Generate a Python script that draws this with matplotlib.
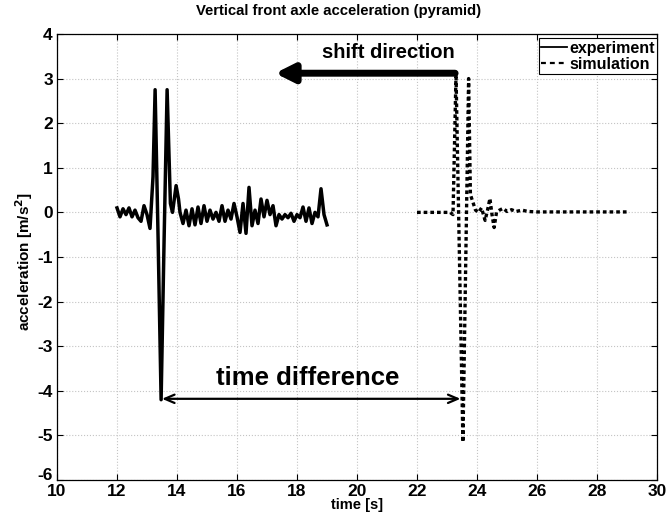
import numpy as np
import matplotlib
matplotlib.use("Agg")
import matplotlib.pyplot as plt
from matplotlib.lines import Line2D

plt.rcParams['font.family'] = ['Liberation Sans', 'DejaVu Sans']
plt.rcParams['font.weight'] = 'bold'
plt.rcParams['axes.unicode_minus'] = False

# ---------------------------------------------------------------------------
# Measured front axle acceleration (pyramid obstacle)
# ---------------------------------------------------------------------------
# quiet section before the obstacle, one sample every 0.1 s from 12.0 s
exp_pre_start = 12.0
exp_pre = [0.10, -0.10, 0.08, -0.05, 0.10, -0.10, 0.05, -0.12, -0.20, 0.15,
           -0.05, -0.36]

# wheel passing the pyramid
exp_hit_t = [13.20, 13.27, 13.37, 13.47, 13.57, 13.67, 13.78, 13.85, 13.92,
             13.97, 14.05, 14.10]
exp_hit = [0.80, 2.75, -0.60, -4.20, -0.60, 2.75, 0.20, 0.00, 0.35,
           0.60, 0.30, 0.00]

# section after the obstacle, one sample every 0.1 s from 14.2 s
exp_post_start = 14.2
exp_post = [-0.25, 0.05, -0.30, 0.08, -0.28, 0.12, -0.25, 0.15, -0.20, 0.05,
            -0.15, 0.00, -0.20, 0.15, -0.20, 0.05, -0.15, 0.20, -0.10, -0.45,
            0.20, -0.47, 0.56, -0.30, 0.05, -0.25, 0.30, -0.10, 0.27, -0.05,
            0.15, -0.30, -0.05, -0.15, -0.05, -0.12, -0.02, -0.20, -0.05, -0.12,
            0.12, -0.20, 0.10, -0.25, 0.00, -0.10, 0.53, -0.05, -0.28]

# ---------------------------------------------------------------------------
# Simulated front axle acceleration
# ---------------------------------------------------------------------------
sim_t = [22.0, 23.10, 23.20, 23.30, 23.53, 23.72, 23.78, 23.95, 24.05, 24.15,
         24.27, 24.35, 24.43, 24.50, 24.57, 24.65, 24.75, 24.87, 25.0, 25.15,
         25.3, 25.5, 25.7, 26.0, 29.0]
sim_a = [0.0, 0.0, -0.05, 3.10, -5.15, 3.00, 0.40, 0.05, 0.00, 0.10,
         -0.18, 0.05, 0.31, -0.05, -0.34, 0.00, 0.05, 0.09, 0.02, 0.06,
         0.02, 0.05, 0.02, 0.01, 0.01]

x_ticks = [10, 12, 14, 16, 18, 20, 22, 24, 26, 28, 30]
y_ticks = [-6, -5, -4, -3, -2, -1, 0, 1, 2, 3, 4]

# annotation anchors (data units)
shift_from, shift_to, shift_y = 23.27, 17.27, 3.12
diff_from, diff_to, diff_y = 13.50, 23.45, -4.18

exp_t = np.concatenate([exp_pre_start + 0.1 * np.arange(len(exp_pre)),
                        exp_hit_t,
                        exp_post_start + 0.1 * np.arange(len(exp_post))])
exp_a = np.concatenate([exp_pre, exp_hit, exp_post])

fig = plt.figure(figsize=(6.66, 5.17), dpi=100)
ax = fig.add_axes([0.0856, 0.0716, 0.9009, 0.8627])

ax.plot(exp_t, exp_a, color='k', lw=2.5, solid_joinstyle='round')
ax.plot(sim_t, sim_a, color='k', lw=2.4, linestyle=(0, (1.1, 0.9)))

ax.set_xlim(10, 30)
ax.set_ylim(-6, 4)
ax.set_xticks(x_ticks)
ax.set_yticks(y_ticks)
ax.tick_params(direction='in', length=4, width=0.8, top=True, right=True,
               labelsize=12.5, pad=3)
for lab in ax.get_xticklabels() + ax.get_yticklabels():
    lab.set_fontweight('bold')
# lift the bottom y label so it clears the first x label in the corner
ax.get_yticklabels()[0].set_va('baseline')
ax.grid(True, linestyle=':', color='#c4c4c4', lw=0.8)
for sp in ax.spines.values():
    sp.set_linewidth(0.9)

ax.set_title('Vertical front axle acceleration (pyramid)', fontsize=10.7,
             fontweight='bold', pad=14, x=0.47)
ax.set_xlabel('time [s]', fontsize=10.5, fontweight='bold', labelpad=-1)
ax.set_ylabel('acceleration [m/s$^\\mathbf{2}$]', fontsize=11,
              fontweight='bold')
ax.yaxis.set_label_coords(-0.036, 0.49)

# shift direction arrow
ax.annotate('', xy=(shift_to, shift_y), xytext=(shift_from, shift_y),
            arrowprops=dict(arrowstyle='-|>,head_length=1.1,head_width=0.55',
                            lw=5, color='k', shrinkA=0, shrinkB=0))
ax.text(21.03, shift_y + 0.25, 'shift direction',
        ha='center', va='bottom', fontsize=14.5, fontweight='bold')

# time difference arrow
ax.annotate('', xy=(diff_from, diff_y), xytext=(diff_to, diff_y),
            arrowprops=dict(arrowstyle='<->,head_length=0.7,head_width=0.3',
                            lw=1.6, color='k', shrinkA=0, shrinkB=0))
ax.text(18.37, diff_y + 0.2, 'time difference', ha='center', va='bottom',
        fontsize=18.5, fontweight='bold')

handles = [Line2D([], [], color='k', lw=1.3),
           Line2D([], [], color='k', lw=1.6, linestyle=(0, (2.2, 1.8)))]
leg = ax.legend(handles, ['experiment', 'simulation'], loc='upper right',
                bbox_to_anchor=(1.0, 0.99), fontsize=11.5, frameon=True,
                fancybox=False, framealpha=1, edgecolor='k', borderaxespad=0,
                handlelength=1.6, handletextpad=0.15, borderpad=0.15,
                labelspacing=0.05)
leg.get_frame().set_linewidth(0.8)
for txt in leg.get_texts():
    txt.set_fontweight('bold')

fig.savefig('out.png', dpi=100)
